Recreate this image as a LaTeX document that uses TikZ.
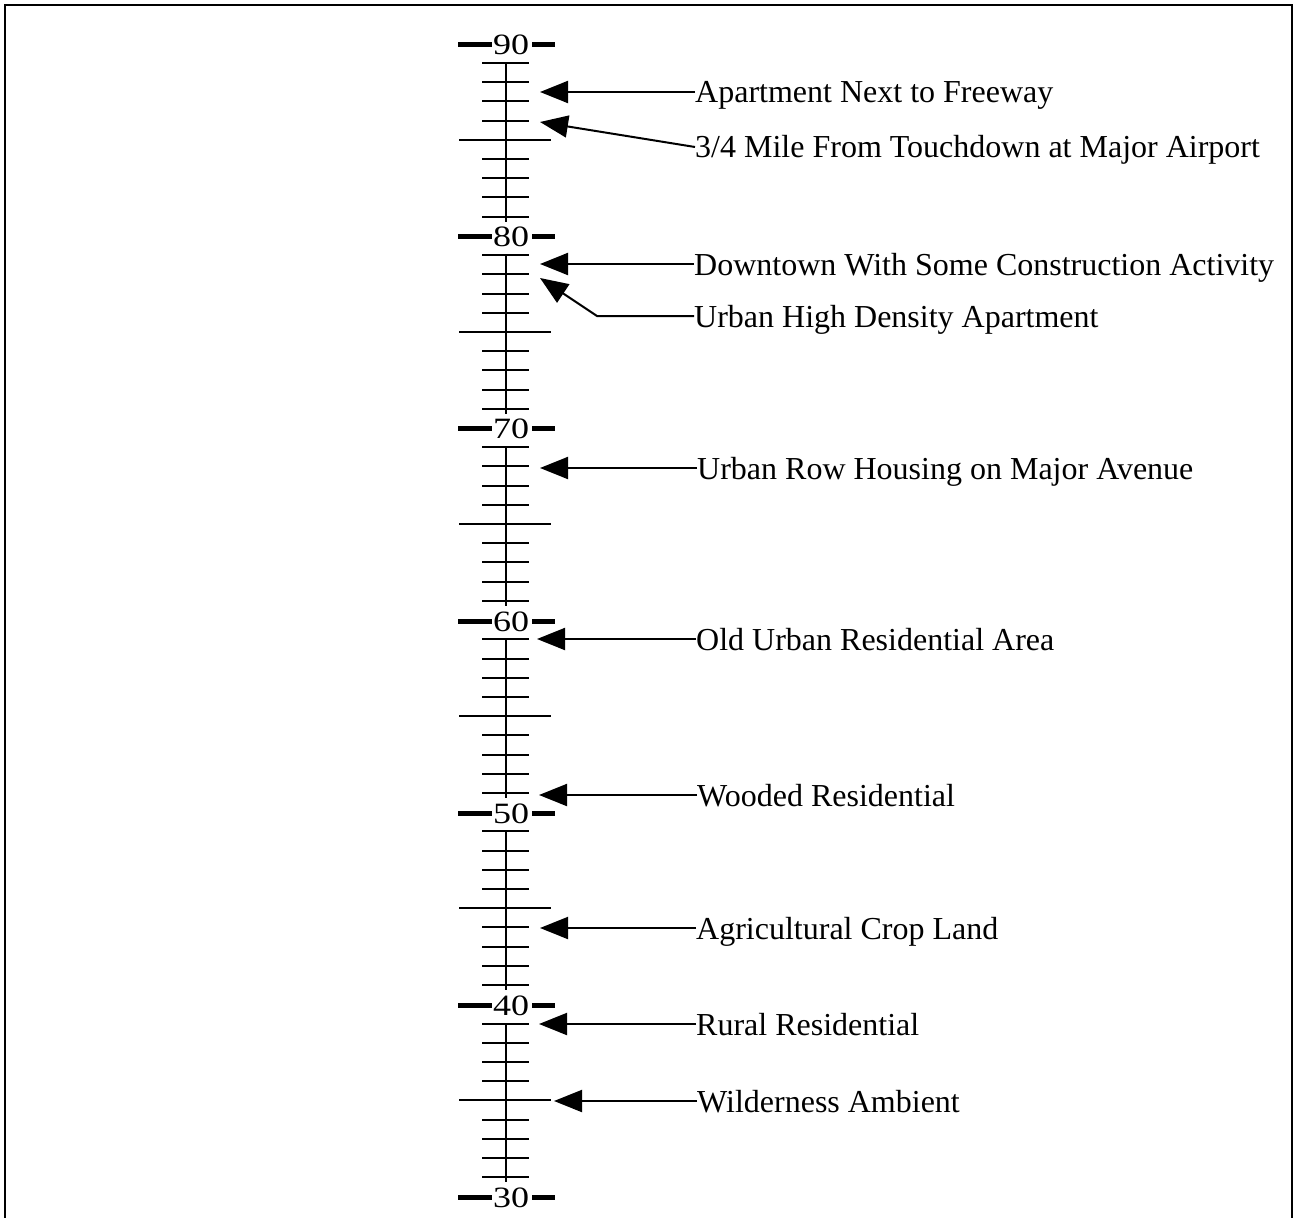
\documentclass[tikz,border=0pt]{standalone}
\usepackage{fontspec}
\setmainfont{Liberation Serif}
\usetikzlibrary{arrows.meta}
\begin{document}
\begin{tikzpicture}[x=1pt,y=-1pt,
  lbl/.style={anchor=west, inner sep=0pt, text height=22pt, text depth=0pt, font=\fontsize{32}{38}\selectfont},
  num/.style={inner sep=0pt, text height=20pt, text depth=0pt, font=\fontsize{29.5}{34}\selectfont},
  ptr/.style={line width=2pt, -{Triangle[length=28pt,width=22pt]}},
  tickline/.style={line width=2pt},
  bar/.style={line width=5pt},
  frame/.style={line width=2.5pt}]
\useasboundingbox (0,0) rectangle (1297,1217);
\draw[frame] (5,1225) -- (5,5) -- (1292,5) -- (1292,1225);
% decade labels and bars
\foreach \d in {90,80,70,60,50,40,30} {
  \pgfmathsetmacro\yy{64+(89-\d)*19.21}
  \node[num] (n\d) at (511,\yy) {\scalebox{1.22}[1]{\d}};
  \draw[bar] (458,\yy) -- (492,\yy);
  \draw[bar] (532,\yy) -- (555,\yy);
}
% ticks
\foreach \d in {90,80,70,60,50,40} {
  \pgfmathsetmacro\ya{63+(90-\d)*19.21}
  \pgfmathsetmacro\yb{63+(98-\d)*19.21+5}
  \draw[tickline] (506,\ya) -- (506,\yb);
  \foreach \k in {1,...,9} {
    \pgfmathsetmacro\yt{63+(89-\d+\k)*19.21}
    \ifnum\k=5
      \draw[tickline] (459,\yt) -- (551,\yt);
    \else
      \draw[tickline] (482,\yt) -- (529,\yt);
    \fi
  }
}
% labels and pointers
\node[lbl] (t1) at (695,92) {Apartment Next to Freeway};
\coordinate (a1) at (540,92);
\draw[ptr] (t1.west) -- (a1);
\node[lbl] (t2) at (695,147) {3/4 Mile From Touchdown at Major Airport};
\coordinate (a2) at (540,122);
\draw[ptr] (t2.west) -- (a2);
\node[lbl] (t3) at (694,264) {Downtown With Some Construction Activity};
\coordinate (a3) at (540,264);
\draw[ptr] (t3.west) -- (a3);
\node[lbl] (t4) at (694,316) {Urban High Density Apartment};
\coordinate (b4) at (597,316);
\coordinate (a4) at (540,278);
\draw[ptr] (t4.west) -- (b4) -- (a4);
\node[lbl] (t5) at (697,468) {Urban Row Housing on Major Avenue};
\coordinate (a5) at (540,468);
\draw[ptr] (t5.west) -- (a5);
\node[lbl] (t6) at (696,639) {Old Urban Residential Area};
\coordinate (a6) at (537,639);
\draw[ptr] (t6.west) -- (a6);
\node[lbl] (t7) at (697,795) {Wooded Residential};
\coordinate (a7) at (539,795);
\draw[ptr] (t7.west) -- (a7);
\node[lbl] (t8) at (696,928) {Agricultural Crop Land};
\coordinate (a8) at (540,928);
\draw[ptr] (t8.west) -- (a8);
\node[lbl] (t9) at (696,1024) {Rural Residential};
\coordinate (a9) at (539,1024);
\draw[ptr] (t9.west) -- (a9);
\node[lbl] (t10) at (697,1101) {Wilderness Ambient};
\coordinate (a10) at (554,1101);
\draw[ptr] (t10.west) -- (a10);
\end{tikzpicture}
\end{document}
